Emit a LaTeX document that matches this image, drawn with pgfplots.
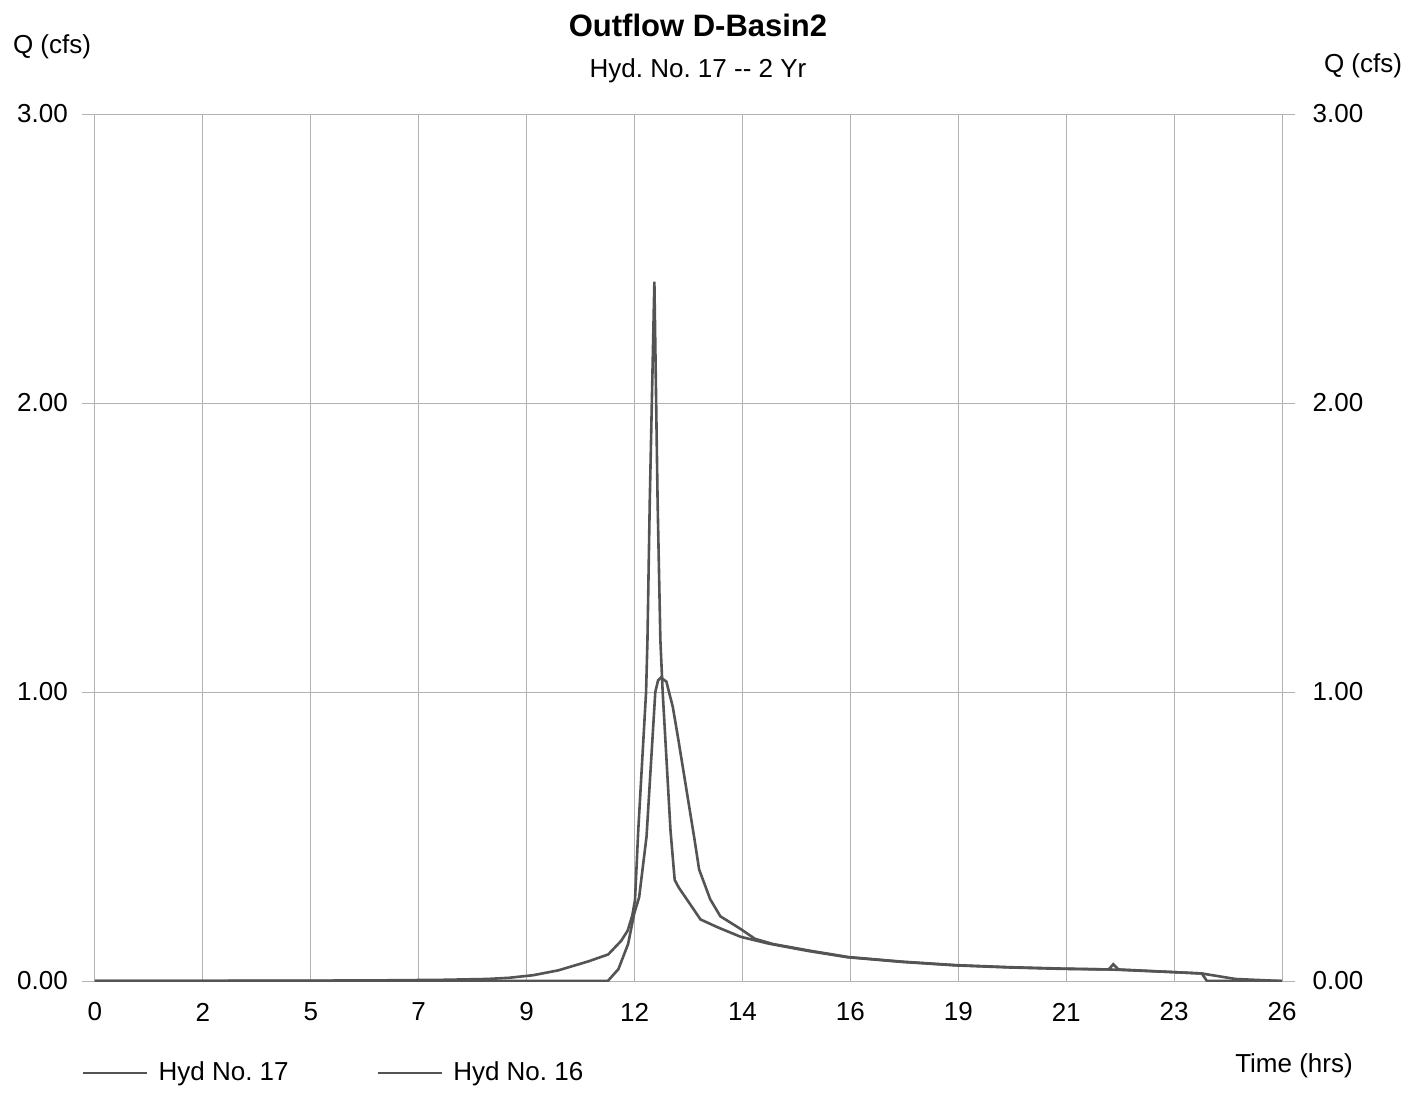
\documentclass[border=0pt]{standalone}
\usepackage{fontspec}
\setmainfont{Liberation Sans}
\usepackage{pgfplots}
\pgfplotsset{compat=1.18}
\definecolor{curve}{gray}{0.33}
\frenchspacing
\begin{document}
\begin{tikzpicture}[x=1pt,y=1pt]
\useasboundingbox (0,0) rectangle (711,546.5);
\pgfplotsset{every axis/.append style={
  scale only axis, width=606.5pt, height=433.5pt,
  xmin=-0.28, xmax=26.02, ymin=0, ymax=3,
  at={(41pt,56pt)}, anchor=south west,
  axis line style={draw=none}, major tick length=0pt,
  tick label style={font=\fontsize{13}{15}\selectfont},
}}
\begin{axis}[
  xtick={0,2.34,4.68,7.02,9.36,11.70,14.04,16.38,18.72,21.06,23.40,25.74},
  xticklabels={0,2,5,7,9,12,14,16,19,21,23,26},
  ytick={0,1,2,3}, yticklabels={0.00,1.00,2.00,3.00},
  grid=major, major grid style={gray!60, line width=0.45pt},
  xticklabel style={anchor=center, yshift=-15.5pt},
  yticklabel style={anchor=center, xshift=-19.75pt},
  legend style={at={(0.0,-0.106)}, anchor=west, draw=none, fill=none,
    inner sep=0pt, outer sep=0pt, font=\fontsize{13}{15}\selectfont,
    nodes={inner sep=0pt},
    /tikz/every odd column/.append style={column sep=5pt},
    /tikz/every even column/.append style={column sep=44pt}},
  legend columns=2,
  legend image code/.code={\draw[#1] (0pt,0pt) -- (32pt,0pt);},
]
\addplot[curve, line width=1.3pt] coordinates {
(0,0) (11.12,0.0) (11.35,0.041) (11.56,0.128) (11.69,0.232) (11.80,0.29)
(11.96,0.50) (12.15,1.00) (12.21,1.04) (12.27,1.05) (12.39,1.036) (12.53,0.948)
(12.65,0.835) (13.0,0.49) (13.1,0.386) (13.34,0.283) (13.56,0.224) (14.0,0.18)
(14.31,0.146) (14.7,0.128) (15.46,0.106) (16.33,0.083) (17.5,0.067) (18.66,0.055)
(19.8,0.048) (20.96,0.043) (22.0,0.040) (23.35,0.031) (24.0,0.026) (24.73,0.007)
(25.72,0.0)
};
\addlegendentry{Hyd No. 17}
\addplot[curve, line width=1.3pt] coordinates {
(0,0.000) (4,0.001) (6,0.002) (7.5,0.004) (8.5,0.007) (8.97,0.011) (9.5,0.02)
(10.05,0.037) (10.7,0.068) (11.13,0.092) (11.41,0.139) (11.55,0.174) (11.65,0.226)
(11.71,0.28) (11.78,0.52) (11.95,1.00) (11.98,1.18) (12.03,1.66) (12.13,2.42)
(12.20,1.66) (12.26,1.18) (12.31,1.00) (12.48,0.52) (12.57,0.35) (12.66,0.323)
(12.84,0.281) (13.13,0.213) (13.50,0.186) (14.00,0.153) (14.59,0.130) (15.46,0.104)
(16.33,0.082) (17.5,0.066) (18.66,0.054) (19.8,0.047) (20.96,0.042) (21.98,0.040)
(22.08,0.058) (22.19,0.040) (23.35,0.031) (24.0,0.026) (24.11,0.0) (25.74,0.0)
};
\addlegendentry{Hyd No. 16}
\end{axis}
\begin{axis}[
  hide x axis, axis y line*=right,
  ytick={0,1,2,3}, yticklabels={0.00,1.00,2.00,3.00},
  yticklabel style={anchor=center, xshift=21.5pt},
]
\end{axis}
\node at (349,534) {\bfseries\fontsize{15.5}{18}\selectfont Outflow D-Basin2};
\node at (349,511) {\fontsize{13}{15}\selectfont Hyd. No. 17 -{}- 2 Yr};
\node at (26,523) {\fontsize{13}{15}\selectfont Q (cfs)};
\node at (681.5,513.5) {\fontsize{13}{15}\selectfont Q (cfs)};
\node at (647,13.5) {\fontsize{13}{15}\selectfont Time (hrs)};
\end{tikzpicture}
\end{document}
